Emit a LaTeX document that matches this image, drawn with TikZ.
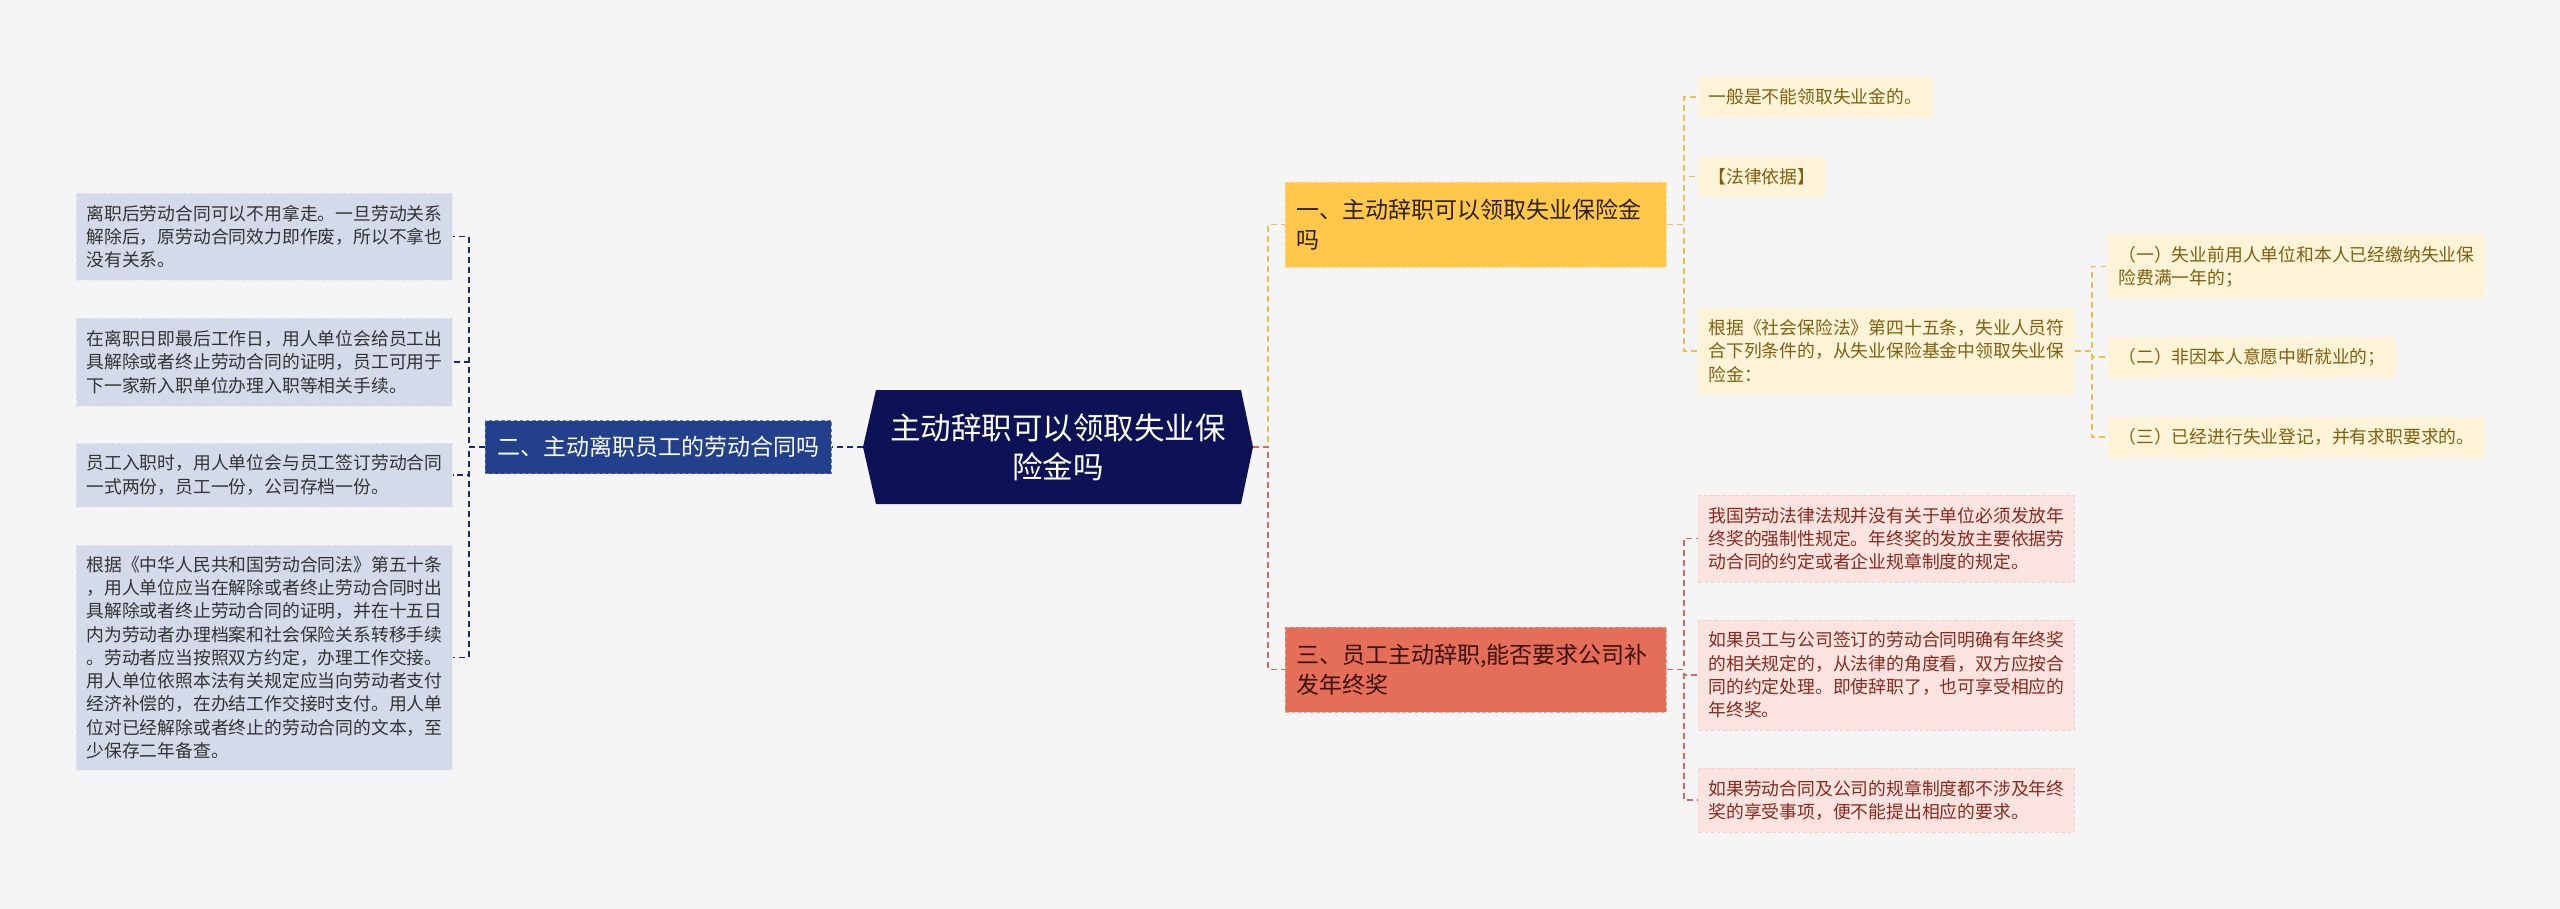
\documentclass[tikz,border=0pt]{standalone}
\usepackage{fontspec}
\setmainfont{Noto Sans CJK SC}
\newcommand{\pxu}{0.02cm}
\definecolor{canvas}{HTML}{F5F5F5}
\definecolor{rootnavy}{HTML}{0C1255}
\definecolor{navyln}{HTML}{1C2A6C}
\definecolor{bluebox}{HTML}{22408C}
\definecolor{blueedge}{HTML}{6378B8}
\definecolor{leafblue}{HTML}{D5DAEA}
\definecolor{leafblueedge}{HTML}{E6E9F2}
\definecolor{leafgray}{HTML}{333333}
\definecolor{goldbox}{HTML}{FFC84B}
\definecolor{goldedge}{HTML}{FADD8E}
\definecolor{goldln}{HTML}{F0C048}
\definecolor{goldtext}{HTML}{2B2100}
\definecolor{cream}{HTML}{FFF3D8}
\definecolor{creamtext}{HTML}{80600F}
\definecolor{redbox}{HTML}{E46E58}
\definecolor{rededge}{HTML}{F2A090}
\definecolor{redln}{HTML}{D7685A}
\definecolor{redtext}{HTML}{3A1008}
\definecolor{pink}{HTML}{FBE3DF}
\definecolor{pinkedge}{HTML}{F5D0C9}
\definecolor{pinktext}{HTML}{872A1F}

\begin{document}
\begin{tikzpicture}[x=0.02cm, y=-0.02cm,
    leaffont/.style={font=\fontsize{10.13pt}{13.26pt}\selectfont},
    branchfont/.style={font=\fontsize{13.09pt}{17.07pt}\selectfont},
    box/.style={anchor=west, align=left, inner xsep=10*\pxu, inner ysep=0pt, line width=0.5pt, dash pattern=on 2pt off 1.5pt},
    leafL/.style={box, leaffont, fill=leafblue, draw=leafblueedge, text=leafgray},
    leafY/.style={box, leaffont, fill=cream, draw=cream, text=creamtext},
    leafR/.style={box, leaffont, fill=pink, draw=pinkedge, text=pinktext},
    branchbox/.style={box, branchfont, inner xsep=11*\pxu, minimum height=85*\pxu, text width=359*\pxu},
    rootbox/.style={anchor=center, align=center, inner sep=0pt, text=white,
      font=\fontsize{17.36pt}{22.2pt}\selectfont,
      path picture={\fill[rootnavy] ([xshift=13*\pxu]path picture bounding box.north west)
        -- ([xshift=-12*\pxu]path picture bounding box.north east)
        -- (path picture bounding box.east)
        -- ([xshift=-12*\pxu]path picture bounding box.south east)
        -- ([xshift=13*\pxu]path picture bounding box.south west)
        -- (path picture bounding box.west) -- cycle;}},
    navyline/.style={draw=navyln, line width=1.1pt, dash pattern=on 3.4pt off 2.3pt},
    goldline/.style={draw=goldln, line width=1.1pt, dash pattern=on 3.4pt off 2.3pt},
    redline/.style={draw=redln, line width=1.1pt, dash pattern=on 3.4pt off 2.3pt}]
  \fill[canvas] (0,0) rectangle (2560,909);
  \useasboundingbox (0,0) rectangle (2560,909);

  \node[rootbox, minimum width=390*\pxu, minimum height=114*\pxu] (root) at (1058,447) {主动辞职可以领取失业保\\险金吗};

  \node[box, branchfont, inner xsep=12*\pxu, minimum height=53*\pxu, fill=bluebox, draw=blueedge, text=white] (b2) at (485,447) {二、主动离职员工的劳动合同吗};
  \node[branchbox, fill=goldbox, draw=goldedge, text=goldtext] (b1) at (1285,224.5) {一、主动辞职可以领取失业保险金\\吗};
  \node[branchbox, fill=redbox, draw=rededge, text=redtext] (b3) at (1285,669.5) {三、员工主动辞职,能否要求公司补\\发年终奖};

  \node[leafL, minimum height=87*\pxu] (l1) at (76,236.5) {离职后劳动合同可以不用拿走。一旦劳动关系\\解除后，原劳动合同效力即作废，所以不拿也\\没有关系。};
  \node[leafL, minimum height=88*\pxu] (l2) at (76,362) {在离职日即最后工作日，用人单位会给员工出\\具解除或者终止劳动合同的证明，员工可用于\\下一家新入职单位办理入职等相关手续。};
  \node[leafL, minimum height=64*\pxu] (l3) at (76,475) {员工入职时，用人单位会与员工签订劳动合同\\一式两份，员工一份，公司存档一份。};
  \node[leafL, minimum height=225*\pxu] (l4) at (76,657.5) {根据《中华人民共和国劳动合同法》第五十条\\，用人单位应当在解除或者终止劳动合同时出\\具解除或者终止劳动合同的证明，并在十五日\\内为劳动者办理档案和社会保险关系转移手续\\。劳动者应当按照双方约定，办理工作交接。\\用人单位依照本法有关规定应当向劳动者支付\\经济补偿的，在办结工作交接时支付。用人单\\位对已经解除或者终止的劳动合同的文本，至\\少保存二年备查。};

  \node[leafY, minimum height=40*\pxu] (c1) at (1698,97) {一般是不能领取失业金的。};
  \node[leafY, minimum height=39*\pxu] (c2) at (1698,176.5) {【法律依据】};
  \node[leafY, minimum height=86*\pxu] (c3) at (1698,351) {根据《社会保险法》第四十五条，失业人员符\\合下列条件的，从失业保险基金中领取失业保\\险金：};

  \node[leafY, minimum height=63*\pxu] (g1) at (2108,266.5) {（一）失业前用人单位和本人已经缴纳失业保\\险费满一年的；};
  \node[leafY, minimum height=40*\pxu] (g2) at (2108,357) {（二）非因本人意愿中断就业的；};
  \node[leafY, minimum height=40*\pxu] (g3) at (2108,437) {（三）已经进行失业登记，并有求职要求的。};

  \node[leafR, minimum height=87*\pxu] (r1) at (1698,538.5) {我国劳动法律法规并没有关于单位必须发放年\\终奖的强制性规定。年终奖的发放主要依据劳\\动合同的约定或者企业规章制度的规定。};
  \node[leafR, minimum height=110*\pxu] (r2) at (1698,675) {如果员工与公司签订的劳动合同明确有年终奖\\的相关规定的，从法律的角度看，双方应按合\\同的约定处理。即使辞职了，也可享受相应的\\年终奖。};
  \node[leafR, minimum height=64*\pxu] (r3) at (1698,800) {如果劳动合同及公司的规章制度都不涉及年终\\奖的享受事项，便不能提出相应的要求。};

  \draw[navyline] (root.west) -- (b2.east);
  \draw[navyline] (b2.west) -- ++(-16,0) |- (l1.east);
  \draw[navyline] (b2.west) -- ++(-16,0) |- (l2.east);
  \draw[navyline] (b2.west) -- ++(-16,0) |- (l3.east);
  \draw[navyline] (b2.west) -- ++(-16,0) |- (l4.east);

  \draw[goldline] (root.east) -- ++(15,0) |- (b1.west);
  \draw[redline] (root.east) -- ++(15,0) |- (b3.west);

  \draw[goldline] (b1.east) -- ++(17,0) |- (c1.west);
  \draw[goldline] (b1.east) -- ++(17,0) |- (c2.west);
  \draw[goldline] (b1.east) -- ++(17,0) |- (c3.west);

  \draw[goldline] (c3.east) -- ++(17,0) |- (g1.west);
  \draw[goldline] (c3.east) -- ++(17,0) |- (g2.west);
  \draw[goldline] (c3.east) -- ++(17,0) |- (g3.west);

  \draw[redline] (b3.east) -- ++(17,0) |- (r1.west);
  \draw[redline] (b3.east) -- ++(17,0) |- (r2.west);
  \draw[redline] (b3.east) -- ++(17,0) |- (r3.west);
\end{tikzpicture}
\end{document}
